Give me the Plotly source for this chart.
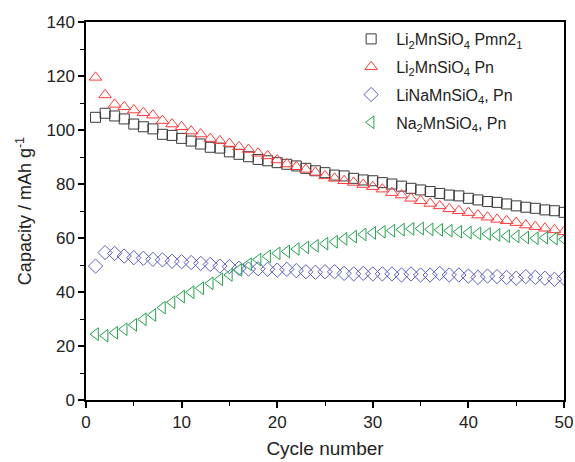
import plotly.graph_objects as go

cycles = list(range(1, 51))

li2_pmn21 = [104.7, 106.2, 105.2, 104.1, 102.2, 101.2, 100.4, 98.4, 98.0, 96.9,
             95.9, 94.8, 93.6, 93.3, 91.9, 91.0, 90.1, 89.1, 88.6, 87.9,
             87.3, 86.7, 85.8, 84.9, 84.2, 83.3, 83.0, 82.1, 81.5, 81.2,
             80.5, 80.0, 79.2, 78.4, 77.8, 77.2, 76.5, 75.9, 75.6, 74.7,
             74.1, 73.5, 73.2, 72.6, 71.9, 71.4, 71.0, 70.4, 70.1, 69.5]

li2_pn = [119.5, 113.0, 109.5, 108.6, 107.4, 106.4, 105.5, 103.5, 102.2, 101.2,
          99.6, 98.5, 96.8, 96.0, 95.0, 93.8, 92.8, 91.4, 90.4, 88.9,
          87.4, 86.4, 85.4, 84.3, 83.0, 82.1, 81.2, 80.6, 79.8, 79.0,
          78.1, 76.8, 75.9, 74.7, 73.8, 72.8, 71.9, 70.8, 70.1, 69.4,
          68.5, 67.7, 66.9, 66.4, 65.7, 64.8, 64.2, 63.6, 63.0, 62.3]

lina_pn = [49.6, 54.6, 54.3, 53.3, 52.7, 52.5, 52.1, 51.9, 51.4, 51.2,
           50.9, 50.6, 50.2, 49.6, 49.4, 48.8, 48.5, 48.6, 48.4, 48.1,
           48.4, 47.9, 47.5, 47.3, 47.5, 47.5, 46.9, 46.7, 46.9, 46.7,
           46.7, 46.7, 46.3, 46.7, 46.3, 46.3, 46.9, 46.3, 46.3, 45.9,
           45.4, 45.9, 45.7, 45.4, 45.1, 45.7, 45.4, 45.1, 44.7, 45.1]

na2_pn = [24.4, 23.8, 24.9, 26.2, 27.8, 29.9, 31.5, 34.2, 36.2, 38.3,
          39.9, 41.4, 43.2, 44.7, 46.3, 48.2, 50.3, 52.0, 53.2, 54.3,
          55.0, 55.9, 56.5, 57.1, 57.9, 58.6, 59.7, 60.5, 61.3, 61.9,
          62.3, 62.7, 63.1, 63.4, 63.5, 63.2, 63.0, 62.7, 62.3, 62.0,
          61.7, 61.5, 61.1, 60.7, 60.6, 60.2, 59.9, 60.1, 59.8, 59.5]

series = [
    ("Li<sub>2</sub>MnSiO<sub>4</sub> Pmn2<sub>1</sub>", li2_pmn21, "square-open", "#3a3a3a", 10),
    ("Li<sub>2</sub>MnSiO<sub>4</sub> Pn", li2_pn, "triangle-up-open", "#ff3b3b", 11),
    ("LiNaMnSiO<sub>4</sub>, Pn", lina_pn, "diamond-open", "#5a5ec0", 11),
    ("Na<sub>2</sub>MnSiO<sub>4</sub>, Pn", na2_pn, "triangle-left-open", "#25a050", 11),
]

FONT = "Liberation Sans, Arial, sans-serif"

fig = go.Figure()
for i, (name, vals, sym, col, sz) in enumerate(series):
    fig.add_trace(go.Scatter(
        x=cycles, y=vals, mode="markers", name=name, legendgroup=f"g{i}",
        marker=dict(symbol=sym, size=sz, color=col, line=dict(width=1, color=col)),
    ))

axis_common = dict(
    showline=True, linecolor="black", linewidth=1.5, mirror=True,
    ticks="outside", ticklen=6, tickwidth=1.5, tickcolor="black",
    showgrid=False, zeroline=False, automargin=False,
    tickfont=dict(family=FONT, size=17, color="#222"),
)

fig.update_xaxes(
    range=[0, 50], dtick=10, tick0=0,
    minor=dict(ticks="outside", ticklen=4, dtick=5, tickcolor="black", tickwidth=1.2),
    title=dict(text="Cycle number", standoff=11,
               font=dict(family=FONT, size=19, color="#222")),
    **axis_common,
)
fig.update_yaxes(
    range=[0, 140], dtick=20, tick0=0,
    minor=dict(ticks="outside", ticklen=4, dtick=10, tickcolor="black", tickwidth=1.2),
    title=dict(text="Capacity / mAh g<sup>-1</sup>", standoff=10,
               font=dict(family=FONT, size=18, color="#222")),
    **axis_common,
)

fig.update_layout(
    width=575, height=462,
    margin=dict(l=86, r=11, t=22, b=62),
    paper_bgcolor="white", plot_bgcolor="white",
    showlegend=True,
    legend=dict(
        x=0.925, y=1.0, xanchor="right", yanchor="top",
        bgcolor="rgba(0,0,0,0)", borderwidth=0,
        font=dict(family=FONT, size=16, color="#222"),
        itemwidth=40, tracegroupgap=4,
    ),
)

fig.write_html("out.html")
